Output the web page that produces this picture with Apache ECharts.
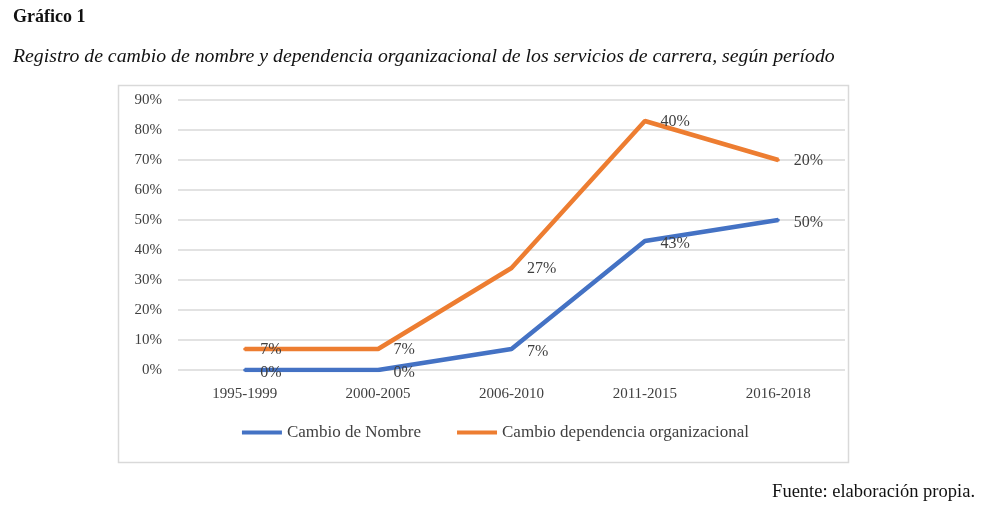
<!DOCTYPE html>
<html>
<head>
<meta charset="utf-8">
<script src="https://cdn.jsdelivr.net/npm/echarts@6/dist/echarts.min.js"></script>
<style>
  html, body { margin: 0; padding: 0; background: #fff; }
  #chart { width: 991px; height: 514px; }
</style>
</head>
<body>
<div id="chart"></div>
<script>
// datos
var periodos = ['1995-1999', '2000-2005', '2006-2010', '2011-2015', '2016-2018'];
var cambioNombre = [0, 0, 7, 43, 50];
var cambioDependencia = [7, 7, 27, 40, 20]; // apilado sobre cambioNombre
var yTicks = [0, 10, 20, 30, 40, 50, 60, 70, 80, 90];

var fuente = '"Liberation Serif", "DejaVu Serif", serif';
var azul = '#4472C4', naranja = '#ED7D31';

var chart = echarts.init(document.getElementById('chart'));

var options = {
    backgroundColor: '#fff',
    textStyle: { fontFamily: fuente },
    graphic: [
        { type: 'text', left: 13, top: 8,
          style: { text: 'Gráfico 1', font: 'bold 18px ' + fuente, fill: '#111' } },
        { type: 'text', left: 13, top: 47,
          style: { text: 'Registro de cambio de nombre y dependencia organizacional de los servicios de carrera, según período',
                   font: 'italic 19.8px ' + fuente, fill: '#111' } },
        { type: 'rect', shape: { x: 118.5, y: 85.5, width: 730, height: 377 },
          style: { fill: 'none', stroke: '#d9d9d9', lineWidth: 1.5 }, z: -1 },
        { type: 'text', right: 16, top: 483,
          style: { text: 'Fuente: elaboración propia.', font: '18.5px ' + fuente, fill: '#111' } }
    ],
    grid: { left: 178, right: 146, top: 100, bottom: 144 },
    legend: {
        bottom: 68,
        left: 'center',
        itemWidth: 40,
        itemHeight: 4,
        itemGap: 36,
        icon: 'rect',
        textStyle: { fontSize: 17, color: '#404040', fontFamily: fuente },
        data: ['Cambio de Nombre', 'Cambio dependencia organizacional']
    },
    xAxis: {
        type: 'category',
        data: periodos,
        boundaryGap: true,
        axisLine: { show: false },
        axisTick: { show: false },
        axisLabel: { color: '#404040', fontSize: 15, margin: 17 }
    },
    yAxis: {
        type: 'value',
        min: 0,
        max: 90,
        interval: 10,
        axisLabel: {
            color: '#404040', fontSize: 15, margin: 16,
            formatter: function (v) { return yTicks.indexOf(v) >= 0 ? v + '%' : ''; }
        },
        splitLine: { lineStyle: { color: '#d9d9d9', width: 1.5 } },
        axisLine: { show: false },
        axisTick: { show: false }
    },
    series: [
        {
            name: 'Cambio de Nombre',
            type: 'line',
            stack: 'total',
            data: cambioNombre,
            symbol: 'circle',
            symbolSize: 3,
            color: azul,
            lineStyle: { width: 4.5, color: azul },
            label: {
                show: true, position: 'right', distance: 14,
                color: '#404040', fontSize: 16, offset: [0, 3],
                formatter: function (p) { return p.value + '%'; }
            }
        },
        {
            name: 'Cambio dependencia organizacional',
            type: 'line',
            stack: 'total',
            data: cambioDependencia,
            symbol: 'circle',
            symbolSize: 3,
            color: naranja,
            lineStyle: { width: 4.5, color: naranja },
            label: {
                show: true, position: 'right', distance: 14,
                color: '#404040', fontSize: 16, offset: [0, 1],
                formatter: function (p) { return p.value + '%'; }
            }
        }
    ]
};

chart.setOption(options);
</script>
</body>
</html>
